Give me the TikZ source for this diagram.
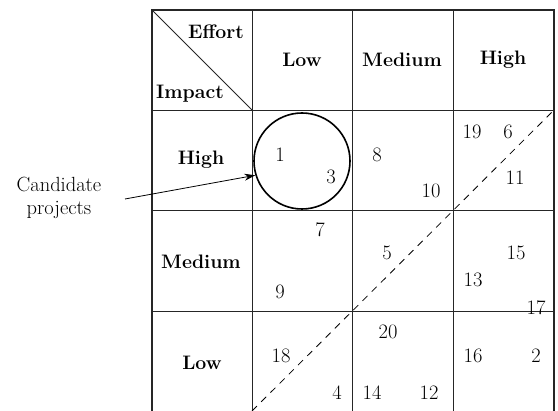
\documentclass[tikz,border=0pt]{standalone}
\usepackage{fontspec}
\usetikzlibrary{arrows.meta}
\begin{document}
\begin{tikzpicture}[x=1pt,y=-1pt,
  num/.style={font=\fontsize{20.5}{23}\selectfont, inner sep=0pt},
  hdr/.style={font=\fontsize{19.5}{22}\selectfont\bfseries, inner sep=0pt},
  thin line/.style={line width=0.8pt, draw=black!85},
  thick line/.style={line width=1.8pt, draw=black!85},
  dline/.style={line width=0.8pt, dash pattern=on 7pt off 6pt}]
\useasboundingbox (0,0) rectangle (558,411);
% inner grid lines
\draw[thin line] (152,110) -- (554,110);
\draw[thin line] (152,210.5) -- (554,210.5);
\draw[thin line] (152,311) -- (554,311);
\draw[thin line] (252,10) -- (252,411);
\draw[thin line] (352.5,10) -- (352.5,411);
\draw[thin line] (453.5,10) -- (453.5,411);
% outer frame
\draw[thick line] (152,411) -- (152,10) -- (554,10) -- (554,411);
% header diagonal
\coordinate (hA) at (152,10);
\coordinate (hB) at (252,110);
\draw[thin line] (hA) -- (hB);
% dashed diagonal
\coordinate (dA) at (252,411);
\coordinate (dB) at (554,110);
\draw[dline] (dA) -- (dB);
% headers
\node[hdr] (effort) at (216,32) {Effort};
\node[hdr] (impact) at (190,94) {Impact};
\node[hdr] (cLow) at (302,60) {Low};
\node[hdr] (cMed) at (402,60) {Medium};
\node[hdr] (cHigh) at (503,60) {High};
\node[hdr] (rHigh) at (201,160) {High};
\node[hdr] (rMed) at (201,262) {Medium};
\node[hdr] (rLow) at (202,363) {Low};
% numbers
\node[num] (n1) at (280,155) {1};
\node[num] (n3) at (331,177) {3};
\node[num] (n8) at (377,155) {8};
\node[num] (n10) at (431,191) {10};
\node[num] (n19) at (472,132) {19};
\node[num] (n6) at (508,132) {6};
\node[num] (n11) at (515,178) {11};
\node[num] (n7) at (320,230) {7};
\node[num] (n9) at (280,292) {9};
\node[num] (n5) at (387,253) {5};
\node[num] (n15) at (516,253) {15};
\node[num] (n13) at (473,280) {13};
\node[num] (n17) at (536,308) {17};
\node[num] (n20) at (388,332) {20};
\node[num] (n18) at (281,356) {18};
\node[num] (n4) at (337,393) {4};
\node[num] (n14) at (372,393) {14};
\node[num] (n12) at (429,393) {12};
\node[num] (n16) at (473,356) {16};
\node[num] (n2) at (536,356) {2};
% circle
\node[circle, draw, line width=1.6pt, minimum size=96pt, inner sep=0pt] (circ) at (302,161) {};
% label and arrow
\node[num, align=center] (cand) at (59,198) {Candidate\\projects};
\coordinate (arrS) at (125,199);
\draw[line width=0.8pt, -{Stealth[length=11pt,width=7pt]}] (arrS) -- (circ.197);
\end{tikzpicture}
\end{document}
